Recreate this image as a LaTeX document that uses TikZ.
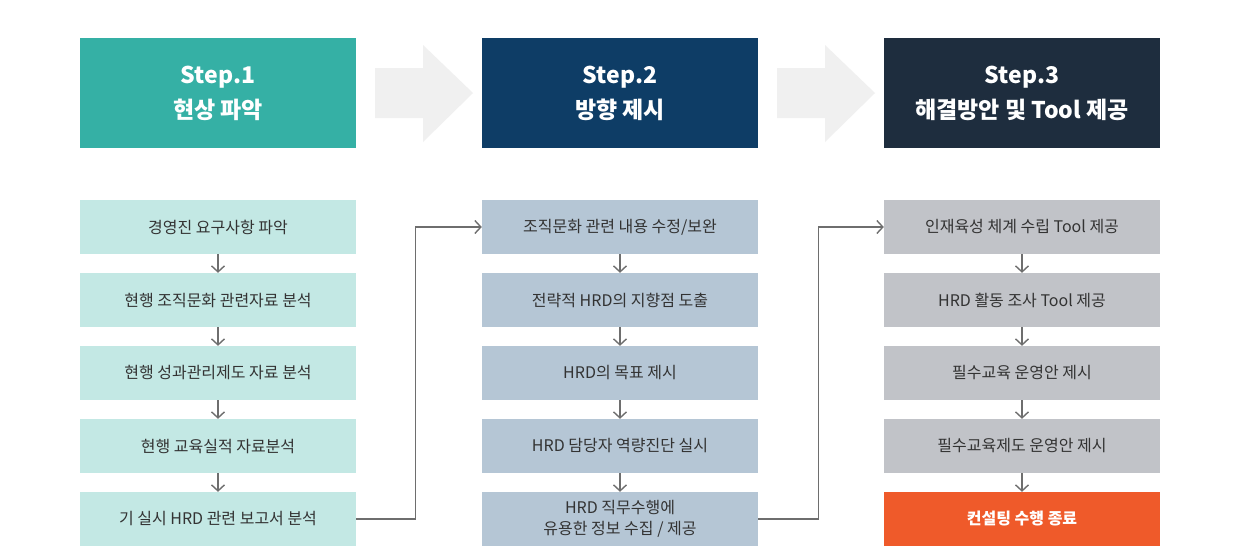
\documentclass[tikz,border=0pt]{standalone}
\usepackage{fontspec}
\setmainfont{Noto Sans CJK KR}
\usetikzlibrary{arrows.meta}
\definecolor{hA}{HTML}{35B0A5}
\definecolor{hB}{HTML}{0E3D66}
\definecolor{hC}{HTML}{1E2D3E}
\definecolor{bA}{HTML}{C3E8E4}
\definecolor{bB}{HTML}{B5C6D5}
\definecolor{bC}{HTML}{C1C3C8}
\definecolor{bD}{HTML}{EF5A2A}
\definecolor{bigarrow}{HTML}{F0F0F0}
\definecolor{conncol}{HTML}{6E6E6E}
\definecolor{txt}{HTML}{333333}
\tikzset{
  header/.style={rectangle, minimum width=276pt, minimum height=110pt, inner sep=0pt,
    text=white, font=\fontsize{23pt}{35pt}\selectfont\bfseries, align=center},
  item/.style={rectangle, minimum width=276pt, minimum height=54pt, inner sep=0pt,
    text=txt, font=\fontsize{16pt}{21pt}\selectfont, align=center},
  conn/.style={draw=conncol, line width=1.4pt, -{Straight Barb[length=6pt,width=13pt,line width=1.4pt]}},
  bigarr/.style={fill=bigarrow, draw=none}
}
\begin{document}
\begin{tikzpicture}[x=1pt,y=-1pt]
\useasboundingbox (0,0) rectangle (1240,550);
\fill[white] (0,0) rectangle (1240,550);
% headers
\node[header, fill=hA] (h1) at (218,93) {Step.1\\현상 파악};
\node[header, fill=hB] (h2) at (620,93) {Step.2\\방향 제시};
\node[header, fill=hC] (h3) at (1022,93) {Step.3\\해결방안 및 Tool 제공};
% big arrows
\fill[bigarr] (375,68) -- (423,68) -- (423,45) -- (473,93) -- (423,142) -- (423,118) -- (375,118) -- cycle;
\fill[bigarr] (777,68) -- (825,68) -- (825,45) -- (875,93) -- (825,142) -- (825,118) -- (777,118) -- cycle;
% column 1
\node[item, fill=bA] (a1) at (218,227) {경영진 요구사항 파악};
\node[item, fill=bA] (a2) at (218,300) {현행 조직문화 관련자료 분석};
\node[item, fill=bA] (a3) at (218,373) {현행 성과관리제도 자료 분석};
\node[item, fill=bA] (a4) at (218,446) {현행 교육실적 자료분석};
\node[item, fill=bA] (a5) at (218,519) {기 실시 HRD 관련 보고서 분석};
% column 2
\node[item, fill=bB] (b1) at (620,227) {조직문화 관련 내용 수정/보완};
\node[item, fill=bB] (b2) at (620,300) {전략적 HRD의 지향점 도출};
\node[item, fill=bB] (b3) at (620,373) {HRD의 목표 제시};
\node[item, fill=bB] (b4) at (620,446) {HRD 담당자 역량진단 실시};
\node[item, fill=bB] (b5) at (620,519) {HRD 직무수행에\\유용한 정보 수집 / 제공};
% column 3
\node[item, fill=bC] (c1) at (1022,227) {인재육성 체계 수립 Tool 제공};
\node[item, fill=bC] (c2) at (1022,300) {HRD 활동 조사 Tool 제공};
\node[item, fill=bC] (c3) at (1022,373) {필수교육 운영안 제시};
\node[item, fill=bC] (c4) at (1022,446) {필수교육제도 운영안 제시};
\node[item, fill=bD, text=white, font=\fontsize{16pt}{21pt}\selectfont\bfseries] (c5) at (1022,519) {컨설팅 수행 종료};
% vertical connectors
\foreach \p/\q in {a1/a2,a2/a3,a3/a4,a4/a5,b1/b2,b2/b3,b3/b4,b4/b5,c1/c2,c2/c3,c3/c4,c4/c5}
  \draw[conn] (\p.south) -- (\q.north);
% elbow connectors
\draw[conn] (a5.east) -- ++(59,0) |- (b1.west);
\draw[conn] (b5.east) -- ++(60,0) |- (c1.west);
\end{tikzpicture}
\end{document}
